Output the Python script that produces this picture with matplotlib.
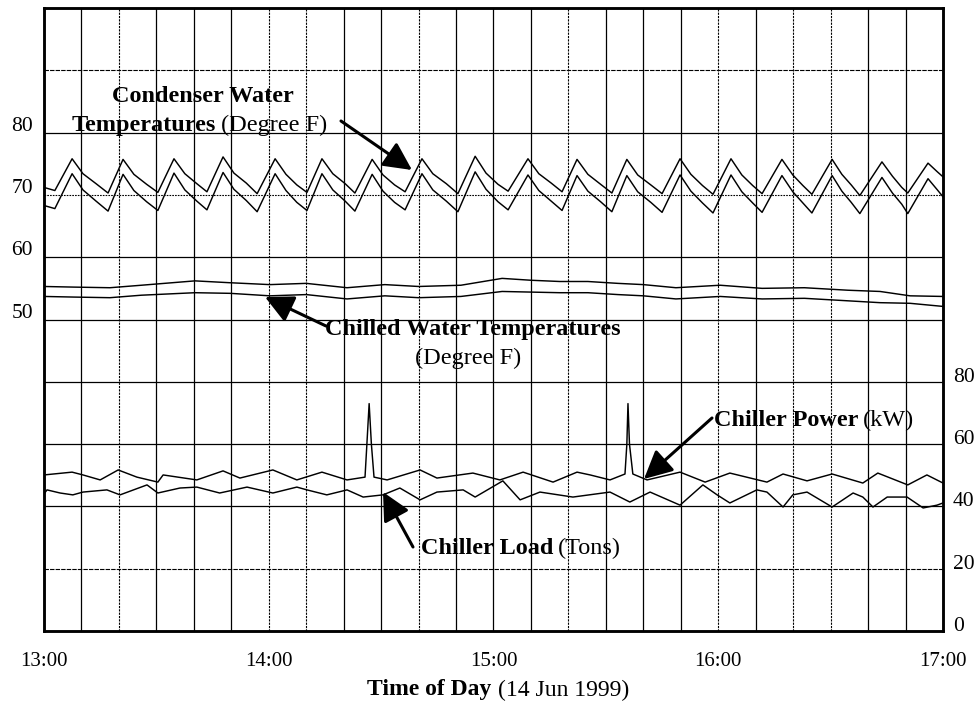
import matplotlib
matplotlib.use("Agg")
import matplotlib.pyplot as plt
from matplotlib.transforms import ScaledTranslation

# ---------------- data (minutes after 13:00) ----------------
cond_t = [0, 2.9, 7.5, 10.4, 13.9, 17.1, 21.1, 24.0, 27.4, 30.4, 34.7, 37.6, 40.8,
          43.5, 47.8, 50.7, 54.0, 56.9, 61.7, 64.6, 67.5, 70.2, 74.2, 77.1, 80.4,
          83.0, 87.6, 90.5, 93.6, 96.4, 100.9, 103.8, 107.4, 110.5, 115.1, 118.0, 121.2,
          123.9, 129.2, 132.1, 135.4, 138.3, 142.3, 145.2, 148.6, 151.6, 155.6, 158.5, 162.0,
          165.0, 169.8, 172.7, 175.8, 178.6, 183.4, 186.3, 189.2, 191.7, 197.0, 199.9, 202.6,
          205.0, 210.4, 213.0, 215.5, 217.8, 223.7, 226.5, 229.0, 230.6, 236.0, 238.5, 240]
cond_hi = [71.2, 70.7, 75.8, 73.4, 71.8, 70.3, 75.7, 73.3, 71.7, 70.4, 75.8, 73.4, 71.8,
           70.5, 76.1, 73.5, 71.9, 70.2, 75.8, 73.3, 71.6, 70.4, 75.8, 73.4, 71.8,
           70.3, 75.7, 73.2, 71.6, 70.5, 75.8, 73.4, 71.8, 70.2, 76.2, 73.5, 71.7,
           70.6, 75.8, 73.4, 71.9, 70.5, 75.7, 73.3, 71.7, 70.3, 75.7, 73.2, 71.6,
           70.2, 75.8, 73.3, 71.5, 70.1, 75.8, 73.2, 71.5, 70.2, 75.7, 73.2, 71.5,
           70.1, 75.7, 73.3, 71.6, 69.9, 75.3, 73.0, 71.2, 70.3, 75.1, 73.7, 72.9]
cond_lo = [68.3, 67.8, 73.4, 70.8, 69.0, 67.4, 73.3, 70.7, 68.9, 67.5, 73.5, 70.8, 69.0,
           67.6, 73.6, 70.9, 69.1, 67.3, 73.4, 70.7, 68.8, 67.5, 73.4, 70.8, 69.0,
           67.4, 73.3, 70.6, 68.8, 67.6, 73.4, 70.8, 69.0, 67.3, 73.7, 70.9, 68.9,
           67.6, 73.2, 70.7, 69.0, 67.5, 73.1, 70.6, 68.9, 67.3, 73.1, 70.5, 68.8,
           67.2, 73.2, 70.6, 68.7, 67.1, 73.2, 70.5, 68.7, 67.2, 73.1, 70.5, 68.7,
           67.1, 73.1, 70.6, 68.8, 67.0, 72.8, 70.3, 68.5, 67.0, 72.6, 70.8, 69.7]

chw_t = [0, 8.0, 17.6, 26.0, 40.3, 49.7, 60.3, 70.0, 80.9, 91.0, 100.0, 111.3, 122.3,
         130.0, 137.7, 145.2, 153.2, 160.0, 168.7, 180.5, 191.7, 203.0, 214.6, 223.2,
         231.2, 240]
chw_hi = [55.3, 55.2, 55.1, 55.5, 56.2, 55.9, 55.6, 55.8, 55.1, 55.6, 55.3, 55.5, 56.6,
          56.3, 56.1, 56.1, 55.8, 55.6, 55.1, 55.5, 55.0, 55.1, 54.7, 54.5, 53.8, 53.7]
chw_lo = [53.7, 53.6, 53.5, 53.9, 54.3, 54.2, 53.8, 54.0, 53.3, 53.8, 53.5, 53.7, 54.5,
          54.4, 54.3, 54.3, 54.0, 53.8, 53.3, 53.7, 53.3, 53.4, 53.0, 52.7, 52.6, 52.1]

pow_t = [0, 7.5, 10.4, 15.0, 19.8, 24.8, 30.4, 31.8, 40.8, 47.8, 52.3, 61.1, 67.5, 74.2,
         80.9, 85.7, 86.2, 86.8, 87.4, 88.1, 91.6, 100.4, 104.9, 114.5, 121.7, 127.9,
         135.9, 142.3, 145.8, 151.1, 155.1, 155.6, 155.9, 156.3, 157.2, 161.0, 169.8,
         176.5, 183.1, 193.0, 197.3, 203.7, 210.4, 218.6, 222.6, 230.6, 235.7, 240]
pow_v = [50.1, 51.0, 50.1, 48.5, 51.7, 49.4, 47.8, 50.1, 48.5, 51.4, 49.1, 51.7, 48.5, 51.0,
         48.5, 49.4, 60.0, 73.0, 60.0, 49.4, 48.5, 51.7, 49.1, 50.7, 48.5, 51.0,
         47.8, 51.0, 50.1, 48.5, 50.4, 60.0, 73.0, 60.0, 50.4, 48.5, 51.0,
         47.8, 50.7, 47.8, 50.4, 48.2, 50.4, 47.5, 50.7, 46.9, 50.1, 47.5]

load_t = [0, 0.8, 4.3, 7.7, 10.4, 16.8, 20.3, 27.5, 30.4, 36.3, 40.8, 46.9, 54.2, 61.1,
          67.5, 70.2, 75.5, 80.9, 85.2, 90.5, 95.0, 100.4, 104.9, 111.9, 115.1, 122.5,
          127.1, 132.4, 141.2, 151.1, 156.4, 161.8, 169.8, 175.9, 179.7, 183.1, 190.3,
          193.0, 197.3, 199.9, 203.7, 210.4, 216.0, 218.6, 221.3, 225.1, 230.4, 234.7, 238.4, 240]
load_v = [44.0, 45.3, 44.3, 43.7, 44.6, 45.3, 43.7, 46.9, 44.3, 45.9, 46.2, 44.3, 46.2, 44.3,
          46.2, 45.3, 43.7, 45.3, 43.0, 43.7, 45.9, 42.1, 44.6, 45.3, 43.0, 48.2,
          42.1, 44.6, 43.0, 44.6, 41.4, 44.6, 40.4, 46.9, 43.7, 41.1, 45.3,
          44.6, 39.8, 43.7, 44.6, 39.8, 44.3, 43.0, 39.8, 43.0, 43.0, 39.5, 40.4, 41.1]

x_ticks = [0, 60, 120, 180, 240]
x_labels = ["13:00", "14:00", "15:00", "16:00", "17:00"]
left_ticks = [50, 60, 70, 80]
right_ticks = [0, 20, 40, 60, 80]

# ---------------- figure ----------------
W, H = 979, 702
SERIF = "Liberation Serif"
plt.rcParams["font.family"] = [SERIF, "DejaVu Serif"]

fig = plt.figure(figsize=(W / 100, H / 100), dpi=100)
ax = fig.add_axes([44 / W, 1 - 631 / H, (943 - 44) / W, (631 - 8) / H])
ax.set_xlim(0, 240)
ax.set_ylim(0, 100)
ax2 = ax.twinx()
ax2.set_ylim(0, 200)


def px(x, y):
    return (x / W, 1 - y / H)


# grid
dotted_v = {2, 6, 7, 10, 14, 18, 20, 21}
for k in range(1, 24):
    if k in dotted_v:
        ax.axvline(k * 10, color="black", lw=0.8, ls=(0, (2, 1)), zorder=1)
    else:
        ax.axvline(k * 10, color="black", lw=0.9, zorder=1)
for v in range(10, 100, 10):
    if v == 70:
        ax.axhline(v, color="black", lw=0.8, ls=(0, (1.5, 1)), zorder=1)
    elif v in (10, 90):
        ax.axhline(v, color="black", lw=0.8, ls=(0, (4, 1)), zorder=1)
    else:
        ax.axhline(v, color="black", lw=0.9, zorder=1)

# data
ax.plot(cond_t, cond_hi, color="black", lw=1.05, zorder=3)
ax.plot(cond_t, cond_lo, color="black", lw=1.05, zorder=3)
ax.plot(chw_t, chw_hi, color="black", lw=1.05, zorder=3)
ax.plot(chw_t, chw_lo, color="black", lw=1.05, zorder=3)
ax2.plot(pow_t, pow_v, color="black", lw=1.05, zorder=3)
ax2.plot(load_t, load_v, color="black", lw=1.05, zorder=3)

# spines
for a in (ax, ax2):
    for s in a.spines.values():
        s.set_linewidth(1.8)
        s.set_color("black")

# ticks
ax.set_xticks(x_ticks)
ax.set_xticklabels(x_labels, fontsize=15, family=SERIF)
ax.tick_params(axis="x", length=0, pad=15)
ax.set_yticks(left_ticks)
ax.set_yticklabels([str(v) for v in left_ticks], fontsize=15.5, family=SERIF)
ax.tick_params(axis="y", length=0, pad=8)
ax2.set_yticks(right_ticks)
ax2.set_yticklabels([str(v) for v in right_ticks], fontsize=15.5, family=SERIF)
ax2.tick_params(axis="y", length=0, pad=7)

off_l = ScaledTranslation(0, 9 / 100, fig.dpi_scale_trans)
off_r = ScaledTranslation(0, 7 / 100, fig.dpi_scale_trans)
for t in ax.yaxis.get_major_ticks():
    t.label1.set_transform(t.label1.get_transform() + off_l)
for t in ax2.yaxis.get_major_ticks():
    t.label2.set_transform(t.label2.get_transform() + off_r)

renderer = fig.canvas.get_renderer()


def mixed(x, y, parts, ha="left", size=17.5, gap=5):
    texts = []
    for s, w in parts:
        t = fig.text(0, 0, s, fontsize=size, fontweight=w, family=SERIF,
                     va="center", ha="left", zorder=6)
        texts.append(t)
    widths = [t.get_window_extent(renderer).width for t in texts]
    total = sum(widths) + gap * (len(texts) - 1)
    x0 = x - total / 2 if ha == "center" else x
    for t, wd in zip(texts, widths):
        t.set_position(px(x0, y))
        x0 += wd + gap


mixed(203, 97, [("Condenser Water", "bold")], ha="center")
mixed(72, 125, [("Temperatures", "bold"), ("(Degree F)", "normal")])
mixed(473, 330, [("Chilled Water Temperatures", "bold")], ha="center")
mixed(468, 358, [("(Degree F)", "normal")], ha="center")
mixed(714, 420, [("Chiller Power", "bold"), ("(kW)", "normal")])
mixed(421, 548, [("Chiller Load", "bold"), ("(Tons)", "normal")])
mixed(498, 690, [("Time of Day", "bold"), ("(14 Jun 1999)", "normal")], ha="center",
      size=17, gap=6)

arrow_kw = dict(arrowstyle="-|>,head_length=0.9,head_width=0.45", lw=2.2, color="black",
                mutation_scale=19, shrinkA=0, shrinkB=0)
for tail, tip in [((341, 121), (412, 170)),
                  ((326, 326), (265, 297)),
                  ((712, 418), (644, 479)),
                  ((413, 547), (383, 492))]:
    ax.annotate("", xy=px(*tip), xytext=px(*tail), xycoords="figure fraction",
                textcoords="figure fraction", arrowprops=arrow_kw, annotation_clip=False,
                zorder=7)

fig.savefig("out.png", dpi=100)
